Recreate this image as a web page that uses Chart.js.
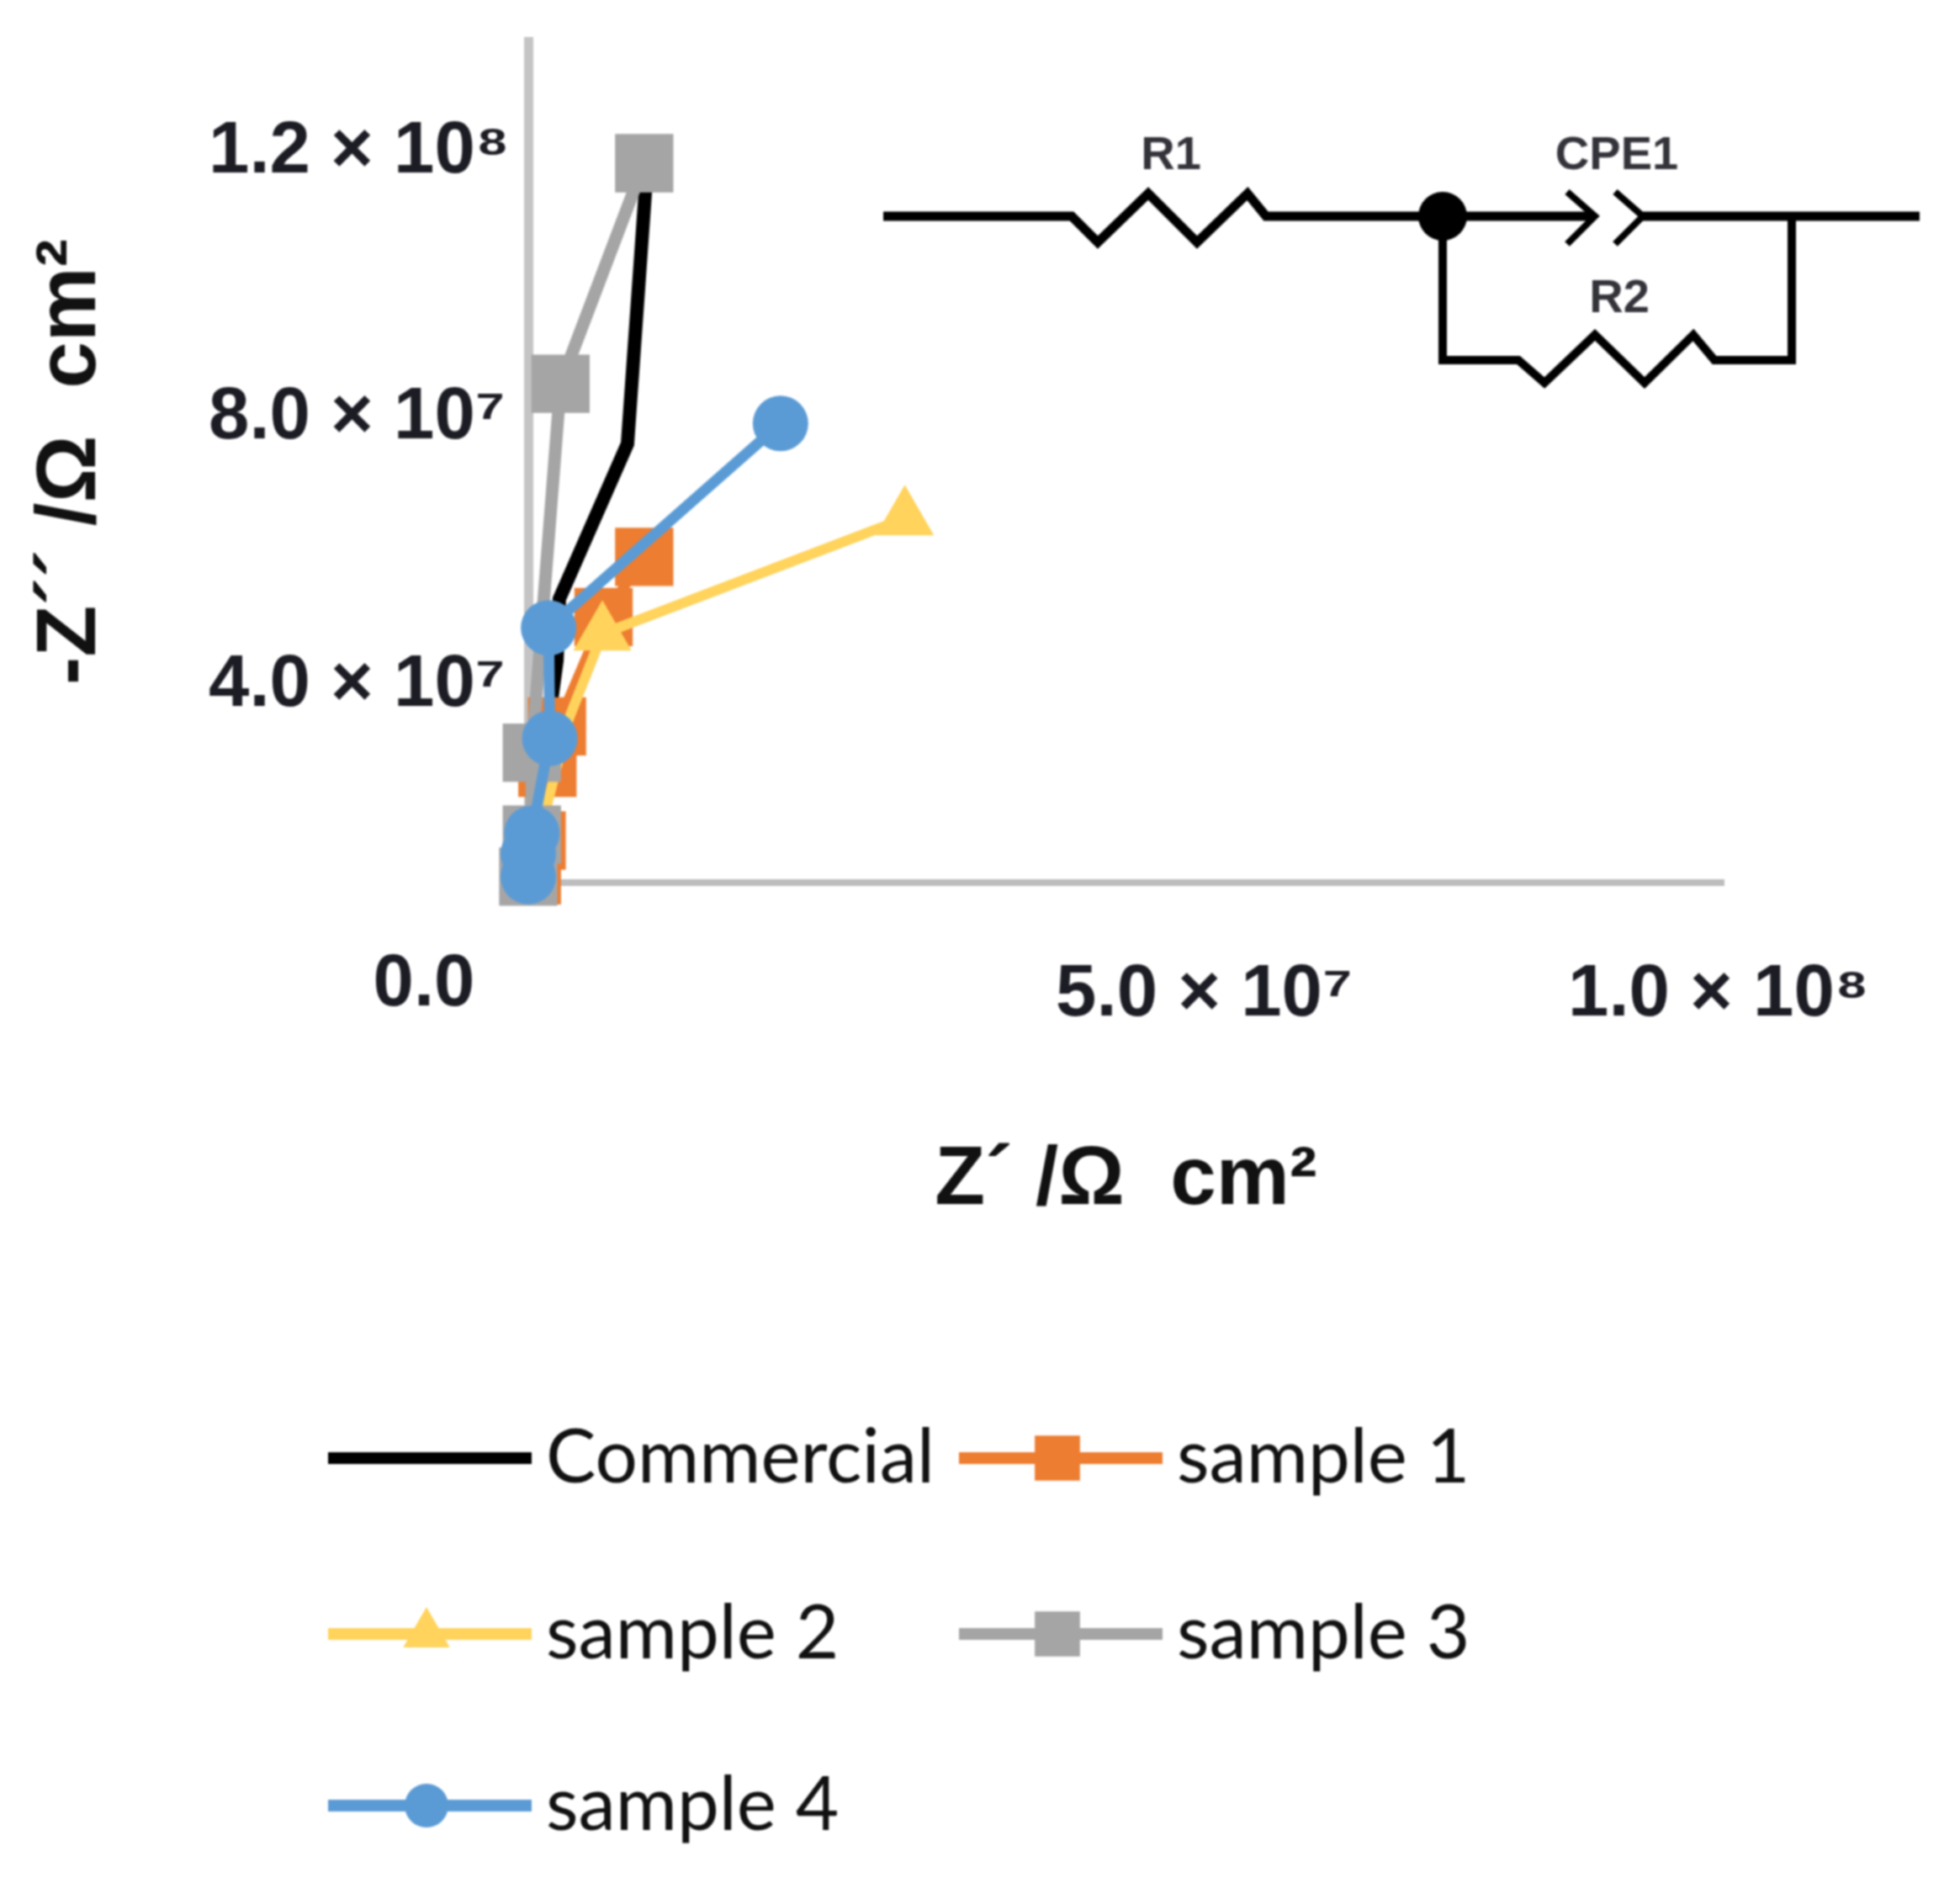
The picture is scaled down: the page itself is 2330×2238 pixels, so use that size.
<!DOCTYPE html>
<html>
<head>
<meta charset="utf-8">
<style>
  html, body { margin: 0; padding: 0; background: #fff; }
  /* the original figure is a soft upscaled raster */
  canvas { display: block; filter: blur(1px); }
</style>
<script src="https://cdn.jsdelivr.net/npm/chart.js@4/dist/chart.umd.js"></script>
</head>
<body>
<canvas id="nyquist" width="2330" height="2238"></canvas>
<script>
const seriesNames = ['Commercial', 'sample 1', 'sample 2', 'sample 3', 'sample 4']

const commercialX = [0.3e6, 0.8e6, 2.4e6, 2.6e6, 8.3e6, 9.9e6]
const commercialY = [0.6e6, 13.6e6, 37e6, 47.2e6, 73e6, 118e6]
const sample1X = [0.3e6, 0.7e6, 1.6e6, 2.4e6, 6.3e6, 9.7e6]
const sample1Y = [1.2e6, 7e6, 19.1e6, 26e6, 44.2e6, 54.2e6]
const sample2X = [0.1e6, 0.8e6, 3.4e6, 6.2e6, 31.5e6]
const sample2Y = [1.2e6, 6.8e6, 27.3e6, 41.4e6, 60.6e6]
const sample3X = [0, 0.3e6, 0.3e6, 2.7e6, 9.7e6]
const sample3Y = [1e6, 8e6, 21.6e6, 83e6, 119.7e6]
const sample4X = [0, 0, 0.3e6, 1.8e6, 1.7e6, 21.1e6]
const sample4Y = [1e6, 4.8e6, 8.2e6, 24e6, 42.4e6, 76.4e6]

const xTicks = [0, 5e7, 1e8]
const yTicks = [4e7, 8e7, 1.2e8]
const xTickLabels = ['0.0', '5.0 × 10⁷', '1.0 × 10⁸']
const yTickLabels = ['4.0 × 10⁷', '8.0 × 10⁷', '1.2 × 10⁸']

// the tick labels sit away from their ticks in the original figure
const xLabelShift = [-124, 93, -6]
const yLabelShift = [52, 19, -11]

const colors = ['#000000', '#ED7D31', '#FFD35C', '#A5A5A5', '#5B9BD5']
const textColor = '#1c1c24'

function toPoints (xs, ys) {
  return xs.map((x, i) => ({ x: x, y: ys[i] }))
}

function setTicks (values) {
  return scale => {
    scale.ticks = values.map(v => ({ value: v }))
  }
}

const tickLabelPlugin = {
  id: 'tickLabels',
  afterDraw (chart) {
    const ctx = chart.ctx
    ctx.save()
    ctx.fillStyle = textColor
    ctx.font = 'bold 87px "Liberation Sans"'
    ctx.textBaseline = 'middle'
    ctx.textAlign = 'center'
    xTicks.forEach((v, i) => {
      ctx.fillText(xTickLabels[i], chart.scales.x.getPixelForValue(v) + xLabelShift[i], i === 0 ? 1171 : 1183)
    })
    ctx.textAlign = 'left'
    yTicks.forEach((v, i) => {
      ctx.fillText(yTickLabels[i], 248, chart.scales.y.getPixelForValue(v) + yLabelShift[i])
    })
    ctx.restore()
  }
}

function wire (ctx, pts) {
  ctx.beginPath()
  pts.forEach((p, i) => i ? ctx.lineTo(p[0], p[1]) : ctx.moveTo(p[0], p[1]))
  ctx.stroke()
}

const circuitPlugin = {
  id: 'circuit',
  afterDraw (chart) {
    const ctx = chart.ctx
    ctx.save()
    ctx.strokeStyle = '#000'
    ctx.fillStyle = '#000'
    ctx.lineWidth = 11
    wire(ctx, [[1050, 257], [1274, 257], [1305, 288], [1365, 230], [1423, 288], [1483, 230], [1505, 257], [1896, 257]])
    wire(ctx, [[1953, 257], [2282, 257]])
    ctx.lineWidth = 8
    wire(ctx, [[1863, 228], [1896, 257], [1863, 290]])
    wire(ctx, [[1920, 228], [1953, 257], [1920, 290]])
    ctx.lineWidth = 10
    wire(ctx, [[1715, 257], [1715, 428], [1805, 428], [1836, 455], [1896, 398], [1955, 455], [2013, 398], [2038, 428], [2130, 428], [2130, 257]])
    ctx.beginPath()
    ctx.arc(1715, 257, 29, 0, Math.PI * 2)
    ctx.fill()
    ctx.fillStyle = '#33333a'
    ctx.font = 'bold 56px "Liberation Sans"'
    ctx.textAlign = 'center'
    ctx.textBaseline = 'middle'
    ctx.fillText('R1', 1392, 186)
    ctx.fillText('CPE1', 1922, 186)
    ctx.fillText('R2', 1925, 356)
    ctx.restore()
  }
}

const legendSlots = [
  [390, 1733], [1140, 1733],
  [390, 1942], [1140, 1942],
  [390, 2146]
]

const legendPlugin = {
  id: 'sideLegend',
  afterDraw (chart) {
    const ctx = chart.ctx
    ctx.save()
    chart.data.datasets.forEach((ds, i) => {
      const x = legendSlots[i][0]
      const y = legendSlots[i][1]
      ctx.strokeStyle = ds.borderColor
      ctx.fillStyle = ds.borderColor
      ctx.lineWidth = 14
      ctx.beginPath()
      ctx.moveTo(x, y)
      ctx.lineTo(x + 242, y)
      ctx.stroke()
      if (ds.legendMarker) {
        Chart.helpers.drawPoint(ctx, {
          pointStyle: ds.pointStyle,
          rotation: 0,
          radius: ds.legendMarker,
          borderWidth: 0
        }, x + 117, y)
      }
      ctx.fillStyle = '#111'
      ctx.font = '89px Lato'
      ctx.textAlign = 'left'
      ctx.textBaseline = 'middle'
      ctx.fillText(ds.label, x + 259, y)
    })
    ctx.restore()
  }
}

new Chart(document.getElementById('nyquist').getContext('2d'), {
  type: 'scatter',
  data: {
    datasets: [
      {
        label: seriesNames[0],
        data: toPoints(commercialX, commercialY),
        borderColor: colors[0],
        backgroundColor: colors[0],
        borderWidth: 16,
        pointRadius: 0,
        order: 5
      },
      {
        label: seriesNames[1],
        data: toPoints(sample1X, sample1Y),
        borderColor: colors[1],
        backgroundColor: colors[1],
        borderWidth: 12,
        pointStyle: 'rect',
        pointRadius: 49,
        legendMarker: 38,
        order: 4
      },
      {
        label: seriesNames[2],
        data: toPoints(sample2X, sample2Y),
        borderColor: colors[2],
        backgroundColor: colors[2],
        borderWidth: 12,
        pointStyle: 'triangle',
        pointRadius: [0, 0, 0, 40, 40],
        legendMarker: 32,
        order: 3
      },
      {
        label: seriesNames[3],
        data: toPoints(sample3X, sample3Y),
        borderColor: colors[3],
        backgroundColor: colors[3],
        borderWidth: 15,
        pointStyle: 'rect',
        pointRadius: 49,
        legendMarker: 38,
        order: 2
      },
      {
        label: seriesNames[4],
        data: toPoints(sample4X, sample4Y),
        borderColor: colors[4],
        backgroundColor: colors[4],
        borderWidth: 13,
        pointStyle: 'circle',
        pointRadius: 33,
        legendMarker: 26,
        order: 1
      }
    ].map(ds => Object.assign(ds, { showLine: true, tension: 0, clip: false, pointBorderWidth: 0 }))
  },
  plugins: [tickLabelPlugin, circuitPlugin, legendPlugin],
  options: {
    responsive: false,
    animation: false,
    events: [],
    layout: { padding: { top: 30, right: 281, left: 0, bottom: 0 } },
    plugins: {
      legend: { display: false },
      tooltip: { enabled: false }
    },
    scales: {
      x: {
        type: 'linear',
        min: 0,
        max: 1e8,
        grid: { display: false },
        border: { display: true, color: '#bdbdbd', width: 8 },
        ticks: { display: false },
        afterBuildTicks: setTicks(xTicks),
        afterFit: scale => { scale.height = 1189 },
        title: {
          display: true,
          text: 'Z´ /Ω  cm²',
          color: '#111',
          font: { family: 'Liberation Sans', weight: 'bold', size: 98 },
          padding: { top: 0, bottom: 775 }
        }
      },
      y: {
        type: 'linear',
        min: 0,
        max: 1.4e8,
        grid: { display: false },
        border: { display: true, color: '#c4c4c4', width: 11 },
        ticks: { display: false },
        afterBuildTicks: setTicks(yTicks),
        afterFit: scale => { scale.width = 628 },
        title: {
          display: true,
          text: '-Z´´ /Ω  cm²',
          color: '#111',
          font: { family: 'Liberation Sans', weight: 'bold', size: 100 },
          padding: { top: 25, bottom: 0 }
        }
      }
    }
  }
})
</script>
</body>
</html>
